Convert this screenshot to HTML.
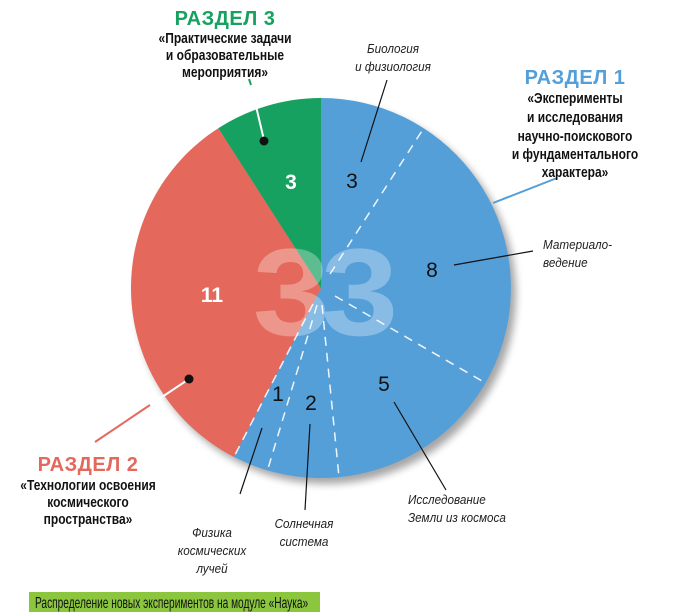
<!DOCTYPE html>
<html><head><meta charset="utf-8"><style>
html,body{margin:0;padding:0;background:#fff;}
svg{display:block;}
.c{font-family:"Liberation Sans",sans-serif;}
.b{font-weight:bold;}
.i{font-style:italic;font-size:13px;fill:#222;}
</style></head><body>
<svg width="700" height="612" viewBox="0 0 700 612" xmlns="http://www.w3.org/2000/svg">
<defs><filter id="sh" x="-20%" y="-20%" width="140%" height="140%"><feGaussianBlur stdDeviation="4"/></filter></defs>
<circle cx="326" cy="294" r="190" fill="#000" opacity="0.35" filter="url(#sh)"/>
<path d="M321,288 L321,98 A190,190 0 1,1 233.9,456.9 Z" fill="#559fd9"/>
<path d="M321,288 L233.9,456.9 A190,190 0 0,1 218.3,128.2 Z" fill="#e4685b"/>
<path d="M321,288 L218.3,128.2 A190,190 0 0,1 321,98 Z" fill="#17a160"/>
<g stroke="#fff" stroke-width="1.5" stroke-dasharray="9,7" fill="none" opacity="0.9">
<line x1="330" y1="274" x2="423.7" y2="128.2"/>
<line x1="335" y1="296" x2="485.5" y2="383"/>
<line x1="322" y1="305" x2="339" y2="477"/>
<line x1="317" y1="305" x2="267.5" y2="470.3"/>
<line x1="313" y1="304" x2="233.9" y2="456.9"/>
</g>
<g transform="translate(321,0) scale(1.12,1)">
<text x="0" y="335" text-anchor="middle" font-family="Liberation Sans,sans-serif" font-weight="bold" font-size="124" fill="#fff" opacity="0.3" letter-spacing="-8">33</text>
</g>
<g class="c b" font-size="21">
<text x="291" y="189" fill="#fff" text-anchor="middle">3</text>
<text x="212" y="302" fill="#fff" text-anchor="middle">11</text>
<text x="352" y="188" fill="#111" text-anchor="middle" font-weight="normal">3</text>
<text x="432" y="277" fill="#111" text-anchor="middle" font-weight="normal">8</text>
<text x="384" y="391" fill="#111" text-anchor="middle" font-weight="normal">5</text>
<text x="278" y="401" fill="#111" text-anchor="middle" font-weight="normal">1</text>
<text x="311" y="410" fill="#111" text-anchor="middle" font-weight="normal">2</text>
</g>
<g stroke="#111" stroke-width="1.2">
<line x1="361" y1="162" x2="387" y2="80"/>
<line x1="454" y1="265" x2="533" y2="251"/>
<line x1="394" y1="402" x2="446" y2="490"/>
<line x1="310" y1="424" x2="305" y2="510"/>
<line x1="262" y1="428" x2="240" y2="494"/>
</g>
<line x1="264" y1="140" x2="251" y2="85" stroke="#fff" stroke-width="2"/>
<line x1="251" y1="85" x2="249" y2="79" stroke="#17a160" stroke-width="2"/>
<circle cx="264" cy="141" r="4.5" fill="#111"/>
<line x1="189" y1="379" x2="150" y2="405" stroke="#fff" stroke-width="2"/>
<line x1="150" y1="405" x2="95" y2="442" stroke="#e4685b" stroke-width="2"/>
<circle cx="189" cy="379" r="4.5" fill="#111"/>
<line x1="493" y1="203" x2="557" y2="178" stroke="#559fd9" stroke-width="2"/>
<g class="c b" text-anchor="middle" font-size="20" letter-spacing="0.5">
<text x="225" y="25" fill="#17a160">РАЗДЕЛ 3</text>
<text x="575" y="84" fill="#559fd9">РАЗДЕЛ 1</text>
<text x="88" y="471" fill="#e4685b">РАЗДЕЛ 2</text>
</g>
<g class="c b" text-anchor="middle" font-size="15" fill="#111">
<g transform="translate(225,0) scale(0.8,1)">
<text x="0" y="43">«Практические задачи</text>
<text x="0" y="60">и образовательные</text>
<text x="0" y="77">мероприятия»</text>
</g>
<g transform="translate(575,0) scale(0.8,1)">
<text x="0" y="103">«Эксперименты</text>
<text x="0" y="122">и исследования</text>
<text x="0" y="141">научно-поискового</text>
<text x="0" y="159">и фундаментального</text>
<text x="0" y="177">характера»</text>
</g>
<g transform="translate(88,0) scale(0.8,1)">
<text x="0" y="490">«Технологии освоения</text>
<text x="0" y="507">космического</text>
<text x="0" y="524">пространства»</text>
</g>
</g>
<g class="c i" text-anchor="middle">
<g transform="translate(393,0) scale(0.9,1)">
<text x="0" y="53">Биология</text>
<text x="0" y="71">и физиология</text>
</g>
<g transform="translate(212,0) scale(0.9,1)">
<text x="0" y="537">Физика</text>
<text x="0" y="555">космических</text>
<text x="0" y="573">лучей</text>
</g>
<g transform="translate(304,0) scale(0.9,1)">
<text x="0" y="528">Солнечная</text>
<text x="0" y="546">система</text>
</g>
</g>
<g class="c i">
<g transform="translate(543,0) scale(0.9,1)">
<text x="0" y="249">Материало-</text>
<text x="0" y="267">ведение</text>
</g>
<g transform="translate(408,0) scale(0.9,1)">
<text x="0" y="504">Исследование</text>
<text x="0" y="522">Земли из космоса</text>
</g>
</g>
<rect x="29" y="592" width="291" height="20" fill="#8cc63f"/>
<g transform="translate(35,0) scale(0.635,1)">
<text x="0" y="608" class="c" font-size="16" fill="#111">Распределение новых экспериментов на модуле «Наука»</text>
</g>
</svg>
</body></html>
